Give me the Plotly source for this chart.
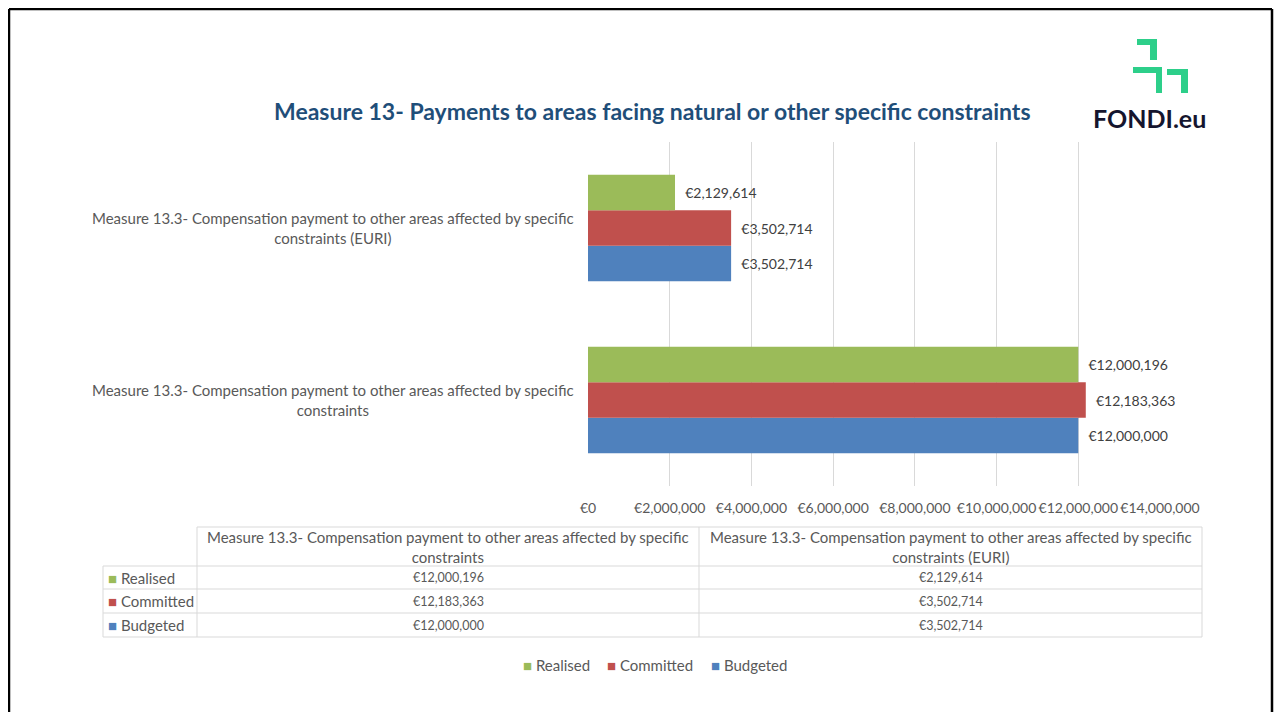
import plotly.graph_objects as go

OFF = 8  # page body margin: figure is drawn 8px right/down of the window corner
W, H = 1284 - OFF, 720 - 2 * OFF  # keep the page inside the window (no scrollbars)

# ---------------- data ----------------
categories = [
    "Measure 13.3- Compensation payment to other areas affected by specific constraints",
    "Measure 13.3- Compensation payment to other areas affected by specific constraints (EURI)",
]
series_names = ["Realised", "Committed", "Budgeted"]
realised = [12000196, 2129614]
committed = [12183363, 3502714]
budgeted = [12000000, 3502714]
tick_values = [0, 2000000, 4000000, 6000000, 8000000, 10000000, 12000000, 14000000]
tick_labels = ["€0", "€2,000,000", "€4,000,000", "€6,000,000", "€8,000,000",
               "€10,000,000", "€12,000,000", "€14,000,000"]
title_text = "Measure 13- Payments to areas facing natural or other specific constraints"
logo_text = "FONDI.eu"

colors = {"Realised": "#9BBB59", "Committed": "#C0504D", "Budgeted": "#4F81BD"}
values = {"Realised": realised, "Committed": committed, "Budgeted": budgeted}

FONT = "Lato"
GRAY = "#595959"
LINE = "#D9D9D9"


def px(x):
    return (x - OFF) / W


def py(y):
    return 1 - (y - OFF) / H


def wrap(name):
    # break category names after "specific"
    return name.replace("specific ", "specific<br>")


fig = go.Figure()

# bars: first trace is drawn lowest in a group -> add Budgeted first
for name in ["Budgeted", "Committed", "Realised"]:
    fig.add_trace(go.Bar(
        y=categories, x=values[name], name=name, orientation="h",
        marker=dict(color=colors[name], line=dict(width=0)),
        texttemplate="\u00a0\u00a0€%{x:,.0f}", textposition="outside",
        textfont=dict(family=FONT, size=14, color="#404040"),
        cliponaxis=False, showlegend=False,
    ))

annotations = []
shapes = []

# category labels (centre-aligned lines, right edge near the axis)
for cat in categories:
    annotations.append(dict(
        x=0, y=cat, xref="x", yref="y", text=wrap(cat), showarrow=False,
        xanchor="right", yanchor="middle", align="center", xshift=-12,
        font=dict(family=FONT, size=15, color=GRAY),
    ))

# ---------------- data table (drawn from the arrays) ----------------
col_edges = [103, 197, 699, 1202]
row_edges = [527, 566, 589, 613, 637]


def hline(y, x0, x1, color=LINE, width=1):
    shapes.append(dict(type="line", xref="paper", yref="paper",
                       x0=px(x0), x1=px(x1), y0=py(y), y1=py(y),
                       line=dict(color=color, width=width)))


def vline(x, y0, y1, color=LINE, width=1):
    shapes.append(dict(type="line", xref="paper", yref="paper",
                       x0=px(x), x1=px(x), y0=py(y0), y1=py(y1),
                       line=dict(color=color, width=width)))


hline(row_edges[0], col_edges[1], col_edges[-1])
for y in row_edges[1:]:
    hline(y, col_edges[0], col_edges[-1])
vline(col_edges[0], row_edges[1], row_edges[-1])
for x in col_edges[1:]:
    vline(x, row_edges[0], row_edges[-1])

# header cells
for j, cat in enumerate(categories):
    cx = (col_edges[j + 1] + col_edges[j + 2]) / 2
    cy = (row_edges[0] + row_edges[1]) / 2
    annotations.append(dict(
        x=px(cx), y=py(cy), xref="paper", yref="paper", text=wrap(cat),
        showarrow=False, xanchor="center", yanchor="middle", align="center",
        font=dict(family=FONT, size=15, color=GRAY),
    ))

# body rows
for i, name in enumerate(series_names):
    cy = (row_edges[i + 1] + row_edges[i + 2]) / 2
    annotations.append(dict(
        x=px(col_edges[0] + 3), y=py(cy), xref="paper", yref="paper",
        text="<span style='color:{}'>■</span> {}".format(colors[name], name),
        showarrow=False, xanchor="left", yanchor="middle",
        font=dict(family=FONT, size=15, color=GRAY),
    ))
    for j in range(len(categories)):
        cx = (col_edges[j + 1] + col_edges[j + 2]) / 2
        annotations.append(dict(
            x=px(cx), y=py(cy), xref="paper", yref="paper",
            text="€{:,}".format(values[name][j]),
            showarrow=False, xanchor="center", yanchor="middle",
            font=dict(family=FONT, size=12.5, color=GRAY),
        ))

# legend (bottom, centred)
legend_x = [521, 605, 709]
for name, lx in zip(series_names, legend_x):
    annotations.append(dict(
        x=px(lx), y=py(665), xref="paper", yref="paper",
        text="<span style='color:{}'>■</span> {}".format(colors[name], name),
        showarrow=False, xanchor="left", yanchor="middle",
        font=dict(family=FONT, size=15, color=GRAY),
    ))

# title
annotations.append(dict(
    x=px(652), y=py(111), xref="paper", yref="paper", text="<b>" + title_text + "</b>",
    showarrow=False, xanchor="center", yanchor="middle",
    font=dict(family=FONT, size=23, color="#1F4E79"),
))

# logo text
annotations.append(dict(
    x=px(1149), y=py(118), xref="paper", yref="paper", text="<b>" + logo_text + "</b>",
    showarrow=False, xanchor="center", yanchor="middle",
    font=dict(family=FONT, size=25, color="#15152E", weight=900),
))

green = "#2DCF8A"


def P(x, y):
    return "{:.5f},{:.5f}".format(px(x), py(y))


logo_paths = [
    [(1137, 39), (1157, 39), (1157, 60), (1150, 60), (1150, 45), (1137, 45)],
    [(1133, 67), (1162, 67), (1162, 93), (1156, 93), (1156, 73), (1133, 73)],
    [(1167, 69), (1188, 69), (1188, 93), (1181, 93), (1181, 75), (1167, 75)],
]
for pts in logo_paths:
    path = "M " + " L ".join(P(x, y) for x, y in pts) + " Z"
    shapes.append(dict(type="path", xref="paper", yref="paper", path=path,
                       fillcolor=green, line=dict(width=0)))

# outer black frame (kept within the visible part of the window)
FRAME_L, FRAME_T, FRAME_R = OFF + 1, OFF + 1, 1272
hline(FRAME_T, FRAME_L, FRAME_R, color="black", width=2.5)
vline(FRAME_L, FRAME_T, 730, color="black", width=2.5)
vline(FRAME_R, FRAME_T, 730, color="black", width=2.5)

fig.update_layout(
    width=W, height=H, autosize=False,
    margin=dict(l=0, r=0, t=0, b=0, pad=0),
    paper_bgcolor="white", plot_bgcolor="white",
    barmode="group", bargap=0.38, bargroupgap=0,
    shapes=shapes, annotations=annotations,
    showlegend=False,
    xaxis=dict(domain=[px(588), px(1160)], range=[0, 14000000],
               tickvals=tick_values, ticktext=tick_labels, tickangle=0,
               showgrid=True, gridcolor=LINE, gridwidth=1,
               zeroline=False, showline=False, automargin=False,
               tickfont=dict(family=FONT, size=14, color=GRAY),
               ticklabelstandoff=12),
    yaxis=dict(domain=[py(486), py(142)], showticklabels=False, automargin=False,
               categoryorder="array", categoryarray=categories,
               showgrid=False, zeroline=False, showline=False),
)

fig.write_html("out.html")
